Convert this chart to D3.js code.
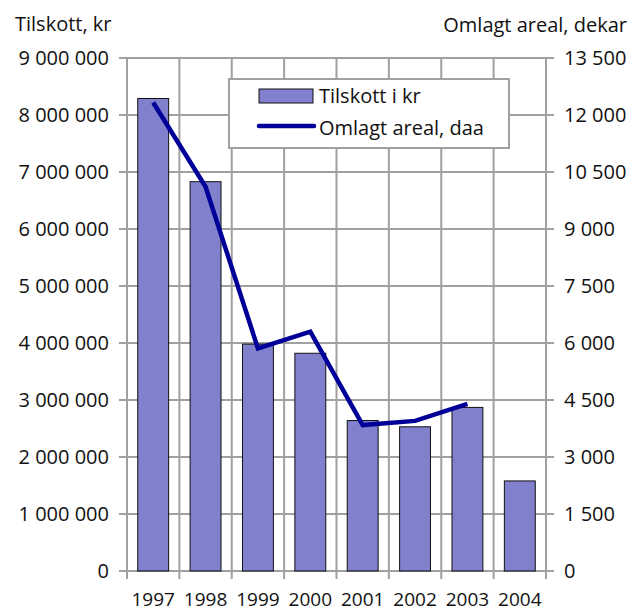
<!DOCTYPE html>
<html>
<head>
<meta charset="utf-8">
<script src="https://cdn.jsdelivr.net/npm/d3@7"></script>
<style>
  body { margin: 0; background: #fff; }
  svg { display: block; font-family: "Open Sans", sans-serif; }
</style>
</head>
<body>
<div id="chart"></div>
<script>
const years = ["1997", "1998", "1999", "2000", "2001", "2002", "2003", "2004"];
const tilskott = [8290000, 6830000, 3980000, 3820000, 2640000, 2530000, 2870000, 1580000];
const arealYears = ["1997", "1998", "1999", "2000", "2001", "2002", "2003"];
const areal = [12330, 10110, 5860, 6300, 3840, 3950, 4400];
const leftTicks = [0, 1000000, 2000000, 3000000, 4000000, 5000000, 6000000, 7000000, 8000000, 9000000];
const rightTicks = [0, 1500, 3000, 4500, 6000, 7500, 9000, 10500, 12000, 13500];

const W = 643, H = 612;
const margin = { t: 58, r: 97, b: 41, l: 127 };
const gridColor = "#a0a0a0";

const svg = d3.select("#chart").append("svg")
  .attr("width", W).attr("height", H)
  .attr("viewBox", [0, 0, W, H]);

const x = d3.scaleBand().domain(years)
  .range([margin.l, W - margin.r]).padding(0);
const yL = d3.scaleLinear().domain([0, 9000000]).range([H - margin.b, margin.t]);
const yR = d3.scaleLinear().domain([0, 13500]).range([H - margin.b, margin.t]);

const fmt = v => d3.format(",")(v).replace(/,/g, " ");

// grid (horizontal lines incl. ticks on both sides)
const grid = svg.append("g").attr("stroke", gridColor).attr("stroke-width", 2);
grid.selectAll("line.h").data(leftTicks).join("line")
  .attr("class", "h")
  .attr("x1", margin.l - 8).attr("x2", W - margin.r + 8)
  .attr("y1", d => yL(d)).attr("y2", d => yL(d));

// vertical lines at category boundaries, ticks below the axis
const bounds = years.map(d => x(d)).concat([x(years[years.length - 1]) + x.bandwidth()]);
grid.selectAll("line.v").data(bounds).join("line")
  .attr("class", "v")
  .attr("x1", d => d).attr("x2", d => d)
  .attr("y1", margin.t).attr("y2", H - margin.b + 8);

// left axis labels
const leftAxis = d3.axisLeft(yL).tickValues(leftTicks).tickFormat(fmt).tickSize(0).tickPadding(18);
svg.append("g").attr("transform", `translate(${margin.l},0)`).call(leftAxis)
  .call(g => g.select(".domain").remove())
  .call(g => g.selectAll("text").attr("font-size", 20).attr("fill", "#111").attr("font-family", "Open Sans"));

// right axis labels
const rightAxis = d3.axisRight(yR).tickValues(rightTicks).tickFormat(fmt).tickSize(0).tickPadding(18);
svg.append("g").attr("transform", `translate(${W - margin.r},0)`).call(rightAxis)
  .call(g => g.select(".domain").remove())
  .call(g => g.selectAll("text").attr("font-size", 20).attr("fill", "#111").attr("font-family", "Open Sans"));

// x labels
const bottomAxis = d3.axisBottom(x).tickSize(0).tickPadding(0);
svg.append("g").attr("transform", `translate(0,${H - margin.b})`).call(bottomAxis)
  .call(g => g.select(".domain").remove())
  .call(g => g.selectAll("text").attr("font-size", 19).attr("fill", "#111")
    .attr("font-family", "Open Sans").attr("dy", null).attr("y", 35));

// bars
const barW = x.bandwidth() * 0.59;
svg.append("g").selectAll("rect").data(years).join("rect")
  .attr("x", (d) => x(d) + (x.bandwidth() - barW) / 2)
  .attr("y", (d, i) => yL(tilskott[i]))
  .attr("width", barW)
  .attr("height", (d, i) => yL(0) - yL(tilskott[i]))
  .attr("fill", "#8080cc")
  .attr("stroke", "#111").attr("stroke-width", 1);

// line
const line = d3.line()
  .x((d, i) => x(arealYears[i]) + x.bandwidth() / 2)
  .y(d => yR(d));
svg.append("path").datum(areal)
  .attr("d", line)
  .attr("fill", "none")
  .attr("stroke", "#000099")
  .attr("stroke-width", 4.5)
  .attr("stroke-linejoin", "miter");

// axis titles
svg.append("text").attr("x", 15).attr("y", 31)
  .attr("font-size", 20).attr("fill", "#111").text("Tilskott, kr");
svg.append("text").attr("x", 627).attr("y", 32).attr("text-anchor", "end")
  .attr("font-size", 20).attr("fill", "#111").text("Omlagt areal, dekar");

// legend
const lg = svg.append("g").attr("transform", "translate(229,79)");
lg.append("rect").attr("width", 280).attr("height", 69)
  .attr("fill", "#fff").attr("stroke", gridColor).attr("stroke-width", 2);
lg.append("rect").attr("x", 30).attr("y", 10).attr("width", 54).attr("height", 14)
  .attr("fill", "#8080cc").attr("stroke", "#111").attr("stroke-width", 1);
lg.append("text").attr("x", 90).attr("y", 24).attr("font-size", 20).attr("fill", "#111").text("Tilskott i kr");
lg.append("line").attr("x1", 30).attr("x2", 85).attr("y1", 47).attr("y2", 47)
  .attr("stroke", "#000099").attr("stroke-width", 4.5).attr("stroke-linecap", "round");
lg.append("text").attr("x", 90).attr("y", 56).attr("font-size", 20).attr("fill", "#111").text("Omlagt areal, daa");
</script>
</body>
</html>
